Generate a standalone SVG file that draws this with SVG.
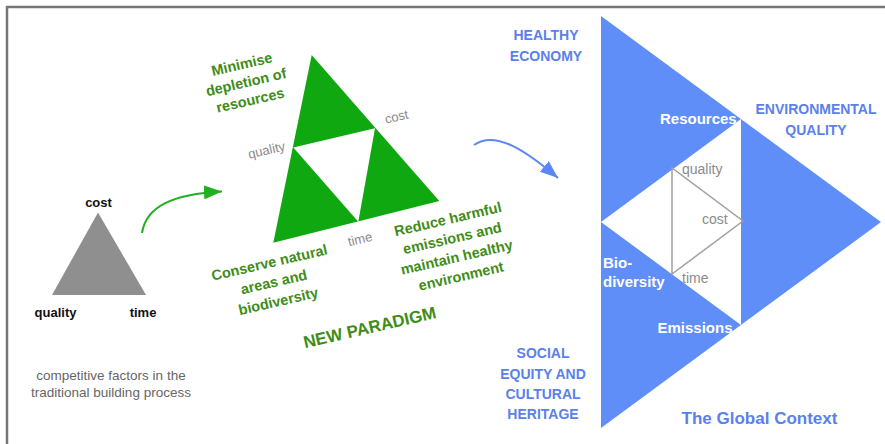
<svg xmlns="http://www.w3.org/2000/svg" width="885" height="444" viewBox="0 0 885 444">
<defs>
<style>
text{font-family:"Liberation Sans",Arial,sans-serif}
.g{fill:#408c18;font-weight:bold;font-size:14.5px;text-anchor:middle}
.gs{fill:#8a8a8a;font-size:13px;text-anchor:middle}
.b{fill:#5b80ee;font-weight:bold;font-size:14px;text-anchor:middle}
.w{fill:#ffffff;font-weight:bold;font-size:15px}
.k{fill:#111;font-weight:bold;font-size:13px;text-anchor:middle}
.cap{fill:#666;font-size:13.5px;text-anchor:middle}
.bs{fill:#8a8a8a;font-size:14px}
</style>
<marker id="ag" markerUnits="userSpaceOnUse" markerWidth="18" markerHeight="14" refX="18" refY="7" orient="auto"><path d="M0,0 L18,7 L0,14 z" fill="#22b022"/></marker>
<marker id="ab" markerUnits="userSpaceOnUse" markerWidth="18" markerHeight="14" refX="18" refY="7" orient="auto"><path d="M0,0 L18,7 L0,14 z" fill="#5b86f5"/></marker>
</defs>
<rect width="885" height="444" fill="#ffffff"/>
<g id="border">
<line x1="6" y1="7" x2="885" y2="7" stroke="#777" stroke-width="2.5"/>
<line x1="7" y1="6" x2="7" y2="444" stroke="#777" stroke-width="2.5"/>
</g>
<g id="traditional">
<polygon points="98,212.5 52,295 146,295" fill="#8f8f8f"/>
<text class="k" x="98.5" y="207">cost</text>
<text class="k" x="55.5" y="317">quality</text>
<text class="k" x="143" y="317">time</text>
<text class="cap" x="111" y="380">competitive factors in the</text>
<text class="cap" x="111" y="397">traditional building process</text>
</g>
<g id="new-paradigm">
<polygon points="311.7,55 273.3,242.7 439.3,201" fill="#10a810"/>
<polygon points="293.3,147.5 375,128.3 358.3,221.7" fill="#ffffff"/>
<g transform="translate(243,69) rotate(-13)"><text class="g" x="0" y="0">Minimise</text><text class="g" x="0" y="18.5">depletion of</text><text class="g" x="0" y="37">resources</text></g>
<g transform="translate(270.5,267.5) rotate(-13)"><text class="g" x="0" y="0">Conserve natural</text><text class="g" x="0" y="19.8">areas and</text><text class="g" x="0" y="39.6">biodiversity</text></g>
<g transform="translate(449,224) rotate(-13)"><text class="g" x="0" y="0">Reduce harmful</text><text class="g" x="0" y="19.5">emissions and</text><text class="g" x="0" y="39">maintain healthy</text><text class="g" x="0" y="58.5">environment</text></g>
<g transform="translate(371,333) rotate(-13)"><text class="g" x="0" y="0" style="font-size:17px">NEW PARADIGM</text></g>
<g transform="translate(397.5,121) rotate(-13)"><text class="gs" x="0" y="0">cost</text></g>
<g transform="translate(267.5,154.5) rotate(-13)"><text class="gs" x="0" y="0">quality</text></g>
<g transform="translate(361,243.5) rotate(-13)"><text class="gs" x="0" y="0">time</text></g>
</g>
<g id="global-context">
<polygon points="601,16 881,222 601,428" fill="#5f8ef8"/>
<polygon points="741,119 741,325 601,222" fill="#ffffff"/>
<polygon points="672,168 672,274 743,221" fill="none" stroke="#a0a0a0" stroke-width="1.5"/>
<text class="w" x="660" y="124">Resources</text>
<text class="w" x="657.5" y="333">Emissions</text>
<text class="w" x="603" y="268">Bio-</text>
<text class="w" x="603" y="287">diversity</text>
<text class="bs" x="682" y="174">quality</text>
<text class="bs" x="702" y="224">cost</text>
<text class="bs" x="682" y="283">time</text>
<text class="b" x="546" y="40">HEALTHY</text>
<text class="b" x="546" y="61">ECONOMY</text>
<text class="b" x="816" y="114">ENVIRONMENTAL</text>
<text class="b" x="816" y="135">QUALITY</text>
<text class="b" x="543" y="358">SOCIAL</text>
<text class="b" x="543" y="379">EQUITY AND</text>
<text class="b" x="543" y="399">CULTURAL</text>
<text class="b" x="543" y="419">HERITAGE</text>
<text class="b" x="759.5" y="424" style="font-size:17px">The Global Context</text>
</g>
<g id="connectors" fill="none" stroke-width="2">
<path d="M142,233 C146,207 172,194 222,191.5" stroke="#22b022" marker-end="url(#ag)"/>
<path d="M474,145 C495,130 525,150 558,178" stroke="#5b86f5" marker-end="url(#ab)"/>
</g>
</svg>
